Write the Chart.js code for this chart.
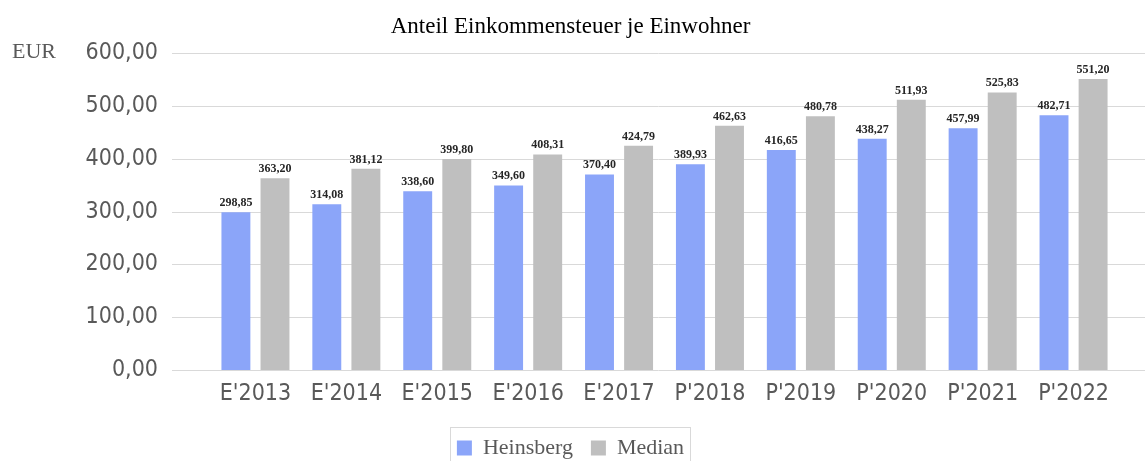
<!DOCTYPE html>
<html>
<head>
<meta charset="utf-8">
<title>Anteil Einkommensteuer je Einwohner</title>
<script src="https://cdn.jsdelivr.net/npm/chart.js@4/dist/chart.umd.min.js"></script>
<style>
  html, body { margin: 0; padding: 0; background: #fff; }
  #wrap { width: 1145px; height: 461px; }
</style>
</head>
<body>
<div id="wrap"><canvas id="chart" width="1145" height="461"></canvas></div>
<script>
// data
const years = ["E'2013", "E'2014", "E'2015", "E'2016", "E'2017", "P'2018", "P'2019", "P'2020", "P'2021", "P'2022"];
const heinsberg = [298.85, 314.08, 338.60, 349.60, 370.40, 389.93, 416.65, 438.27, 457.99, 482.71];
const median = [363.20, 381.12, 399.80, 408.31, 424.79, 462.63, 480.78, 511.93, 525.83, 551.20];
const yTicks = [0, 100, 200, 300, 400, 500, 600];

const SANS = "'DejaVu Sans Condensed', 'DejaVu Sans', sans-serif";
const SERIF = "'Liberation Serif', 'Times New Roman', serif";
const fmt = v => v.toFixed(2).replace('.', ',');

// horizontal grid lines run wider than the bar area
const wideGrid = {
  id: 'wideGrid',
  beforeDatasetsDraw(chart) {
    const { ctx, scales: { y } } = chart;
    ctx.save();
    ctx.strokeStyle = '#d9d9d9';
    ctx.lineWidth = 1;
    yTicks.forEach(v => {
      const py = Math.round(y.getPixelForValue(v)) + 0.5;
      ctx.beginPath();
      ctx.moveTo(172, py);
      ctx.lineTo(chart.width, py);
      ctx.stroke();
    });
    ctx.restore();
  }
};

// value labels above bars + unit text
const barLabels = {
  id: 'barLabels',
  afterDatasetsDraw(chart) {
    const { ctx } = chart;
    ctx.save();
    ctx.font = 'bold 12px ' + SERIF;
    ctx.fillStyle = '#262626';
    ctx.textAlign = 'center';
    ctx.textBaseline = 'alphabetic';
    chart.data.datasets.forEach((ds, di) => {
      chart.getDatasetMeta(di).data.forEach((bar, i) => {
        ctx.fillText(fmt(ds.data[i]), bar.x, bar.y - 6);
      });
    });
    ctx.font = '22px ' + SERIF;
    ctx.fillStyle = '#595959';
    ctx.textAlign = 'left';
    ctx.fillText('EUR', 12, 58);
    ctx.restore();
  }
};

// thin frame round the legend
const legendFrame = {
  id: 'legendFrame',
  afterDraw(chart) {
    const hb = chart.legend.legendHitBoxes;
    if (!hb || !hb.length) return;
    const last = hb[hb.length - 1];
    const left = Math.round(hb[0].left - 7) + 0.5;
    const right = Math.round(last.left + last.width + 6) + 0.5;
    const top = Math.round(hb[0].top - 10) + 0.5;
    const { ctx } = chart;
    ctx.save();
    ctx.strokeStyle = '#d9d9d9';
    ctx.lineWidth = 1;
    ctx.strokeRect(left, top, right - left, chart.height + 10 - top);
    ctx.restore();
  }
};

new Chart(document.getElementById('chart'), {
  type: 'bar',
  data: {
    labels: years,
    datasets: [
      { label: 'Heinsberg', data: heinsberg, backgroundColor: '#8ba5f9', borderWidth: 0 },
      { label: 'Median', data: median, backgroundColor: '#bfbfbf', borderWidth: 0 }
    ]
  },
  options: {
    responsive: false,
    animation: false,
    categoryPercentage: 0.86,
    barPercentage: 0.74,
    layout: { padding: { left: 22, right: 26, top: 0, bottom: -8 } },
    plugins: {
      title: {
        display: true,
        text: 'Anteil Einkommensteuer je Einwohner',
        color: '#000',
        font: { family: SERIF, size: 23, weight: 'normal' },
        padding: { top: 13, bottom: 12.7 }
      },
      legend: {
        position: 'bottom',
        labels: {
          boxWidth: 15,
          boxHeight: 15,
          padding: 18,
          color: '#595959',
          font: { family: SERIF, size: 22 }
        }
      },
      tooltip: { enabled: false }
    },
    scales: {
      x: {
        grid: { display: false, drawTicks: false },
        border: { display: false },
        ticks: { color: '#595959', padding: 10, font: { family: SANS, size: 23 } },
        afterFit(scale) { scale.height = 49; }
      },
      y: {
        min: 0,
        max: 600,
        grid: { display: false, drawTicks: false },
        border: { display: false },
        afterFit(scale) {
          scale.width = 188;
          // the wide label gap must not push the plot down
          scale.paddingTop = 14;
          scale.paddingBottom = 14;
        },
        afterBuildTicks(scale) { scale.ticks = yTicks.map(v => ({ value: v })); },
        ticks: {
          color: '#595959',
          padding: 52,
          font: { family: SANS, size: 23 },
          callback: v => fmt(v)
        }
      }
    }
  },
  plugins: [wideGrid, barLabels, legendFrame]
});
</script>
</body>
</html>
